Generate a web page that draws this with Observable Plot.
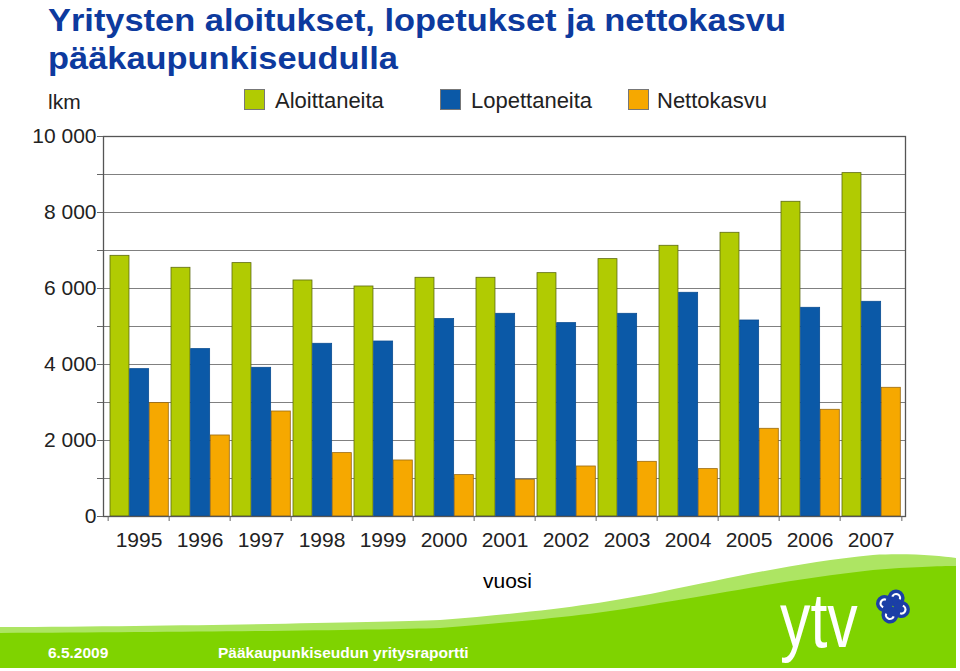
<!DOCTYPE html>
<html>
<head>
<meta charset="utf-8">
<script src="https://cdn.jsdelivr.net/npm/d3@7"></script>
<script src="https://cdn.jsdelivr.net/npm/@observablehq/plot@0.6"></script>
<style>
html, body { margin: 0; padding: 0; background: #fff; }
#page { position: relative; width: 960px; height: 671px; overflow: hidden; font-family: "Liberation Sans", Arial, sans-serif; }
#footer { position: absolute; left: 0; top: 0; z-index: 0; }
#chart { position: absolute; left: 0; top: 0; z-index: 1; }
.title { position: absolute; left: 48px; z-index: 2; color: #0d3a9e; font-weight: bold; font-size: 32px; white-space: nowrap; transform: scaleX(1.075); transform-origin: left top; line-height: 1; }
.lbl { position: absolute; z-index: 2; font-size: 21px; color: #222; white-space: nowrap; line-height: 1; }
.sw { position: absolute; z-index: 2; width: 19px; height: 19px; border: 1px solid #777; }
.foot { position: absolute; z-index: 2; color: #fff; font-weight: bold; font-size: 15.5px; white-space: nowrap; line-height: 1; }
</style>
</head>
<body>
<div id="page">
  <svg id="footer" width="960" height="671" xmlns="http://www.w3.org/2000/svg">
    <rect x="0" y="0" width="960" height="671" fill="#fff"/>
    <path d="M0,627 C200,626 380,622 440,620 C540,612 600,604 660,592 C740,576 800,562 873,555 C910,553 940,556 956,558 L956,668 L0,668 Z" fill="#ade563"/>
    <path d="M0,633 C200,632 380,630 440,628 C540,620 600,614 660,603 C740,590 800,578 873,570 C910,567 940,566 956,566 L956,668 L0,668 Z" fill="#7fd300"/>
    <text x="780" y="647" fill="#fff" font-family="Liberation Sans, Arial, sans-serif" font-size="78" transform="translate(780,0) scale(0.78,1) translate(-780,0)">ytv</text>
    <g transform="translate(893,606.5) rotate(20)">
      <circle cx="0" cy="-9" r="8.5" fill="#1b3fa6"/>
      <circle cx="9" cy="0" r="8.5" fill="#1b3fa6"/>
      <circle cx="0" cy="9" r="8.5" fill="#1b3fa6"/>
      <circle cx="-9" cy="0" r="8.5" fill="#1b3fa6"/>
      <path d="M-4,-9 A4,4 0 0 1 4,-9" stroke="#fff" stroke-width="2.2" fill="none"/>
      <path d="M9,-4 A4,4 0 0 1 9,4" stroke="#fff" stroke-width="2.2" fill="none"/>
      <path d="M4,9 A4,4 0 0 1 -4,9" stroke="#fff" stroke-width="2.2" fill="none"/>
      <path d="M-9,4 A4,4 0 0 1 -9,-4" stroke="#fff" stroke-width="2.2" fill="none"/>
    </g>
  </svg>
  <div id="chart"></div>
  <div class="title" style="top:4px">Yritysten aloitukset, lopetukset ja nettokasvu</div>
  <div class="title" style="top:42px">pääkaupunkiseudulla</div>
  <div class="lbl" style="left:48px; top:91px">lkm</div>
  <div id="legend"></div>
  <div class="lbl" style="left:483px; top:570px; color:#000">vuosi</div>
  <div class="foot" style="left:48px; top:645px">6.5.2009</div>
  <div class="foot" style="left:218px; top:645px">Pääkaupunkiseudun yritysraportti</div>
</div>
<script>
// ---- Data ----
const years = ["1995","1996","1997","1998","1999","2000","2001","2002","2003","2004","2005","2006","2007"];
const aloittaneita = [6860, 6545, 6668, 6211, 6053, 6282, 6282, 6404, 6773, 7124, 7466, 8282, 9036];
const lopettaneita = [3878, 4405, 3913, 4545, 4605, 5195, 5334, 5089, 5334, 5887, 5158, 5492, 5650];
const nettokasvu   = [2984, 2132, 2763, 1668, 1474, 1089,  966, 1316, 1439, 1247, 2308, 2808, 3387];
const seriesNames  = ["Aloittaneita", "Lopettaneita", "Nettokasvu"];
const seriesColors = ["#b1cb02", "#0b59a7", "#f6a800"];
const seriesStroke = ["#5d6a10", "#0a4d92", "#9a6a10"];
const yTicksMajor  = [0, 2000, 4000, 6000, 8000, 10000];
const yTicksMinor  = [1000, 2000, 3000, 4000, 5000, 6000, 7000, 8000, 9000, 10000];

const seriesValues = [aloittaneita, lopettaneita, nettokasvu];
const table = years.flatMap((year, i) =>
  seriesNames.map((s, k) => ({year, series: s, value: seriesValues[k][i]})));

// ---- Layout ----
const W = 960, H = 560;
const mL = 103, mR = 55, mT = 136, mB = 44;
const bw = (W - mL - mR) / years.length;   // band width per year
const gap = 2.7, lead = 2;
const barW = (bw - gap) / 3;

const fmt = d3.formatLocale({decimal: ",", thousands: " ", grouping: [3]}).format(",");

const barMarks = seriesNames.map((s, k) =>
  Plot.barY(table.filter(d => d.series === s), {
    x: "year", y: "value", fill: seriesColors[k],
    stroke: seriesStroke[k], strokeWidth: 0.8,
    insetLeft: lead + k * barW,
    insetRight: bw - (lead + (k + 1) * barW)
  }));

const plot = Plot.plot({
  width: W, height: H,
  marginLeft: mL, marginRight: mR, marginTop: mT, marginBottom: mB,
  style: {background: "none", fontFamily: "Liberation Sans, Arial, sans-serif", color: "#222"},
  x: {type: "band", domain: years, padding: 0, label: null},
  y: {domain: [0, 10000], label: null},
  marks: [
    Plot.gridY(yTicksMinor, {stroke: "#808080", strokeOpacity: 1, strokeWidth: 1.2}),
    ...barMarks,
    Plot.frame({stroke: "#555", strokeWidth: 1.3}),
    Plot.axisY({ticks: yTicksMinor, tickSize: 6, tickFormat: () => "", stroke: "#666"}),
    Plot.axisY({ticks: yTicksMajor, tickSize: 6, tickPadding: 1, tickFormat: fmt, fontSize: 21, fill: "#222", stroke: "#666"}),
    Plot.axisX({tickSize: 0, tickPadding: 16, fontSize: 21, fill: "#222"}),
    Plot.axisX({tickSize: 5, tickFormat: () => "", dx: -bw / 2, stroke: "#666"}),
    Plot.axisX({ticks: [years[years.length - 1]], tickSize: 5, tickFormat: () => "", dx: bw / 2, stroke: "#666"})
  ]
});
document.getElementById("chart").appendChild(plot);

// ---- Legend ----
const legendPos = [[244, 275], [440, 471], [628, 657]];
const legend = document.getElementById("legend");
seriesNames.forEach((s, k) => {
  const sw = document.createElement("div");
  sw.className = "sw";
  sw.style.left = legendPos[k][0] + "px";
  sw.style.top = "89px";
  sw.style.background = seriesColors[k];
  legend.appendChild(sw);
  const t = document.createElement("div");
  t.className = "lbl";
  t.style.left = legendPos[k][1] + "px";
  t.style.top = "90px";
  t.style.fontSize = "22px";
  t.textContent = s;
  legend.appendChild(t);
});
</script>
</body>
</html>
